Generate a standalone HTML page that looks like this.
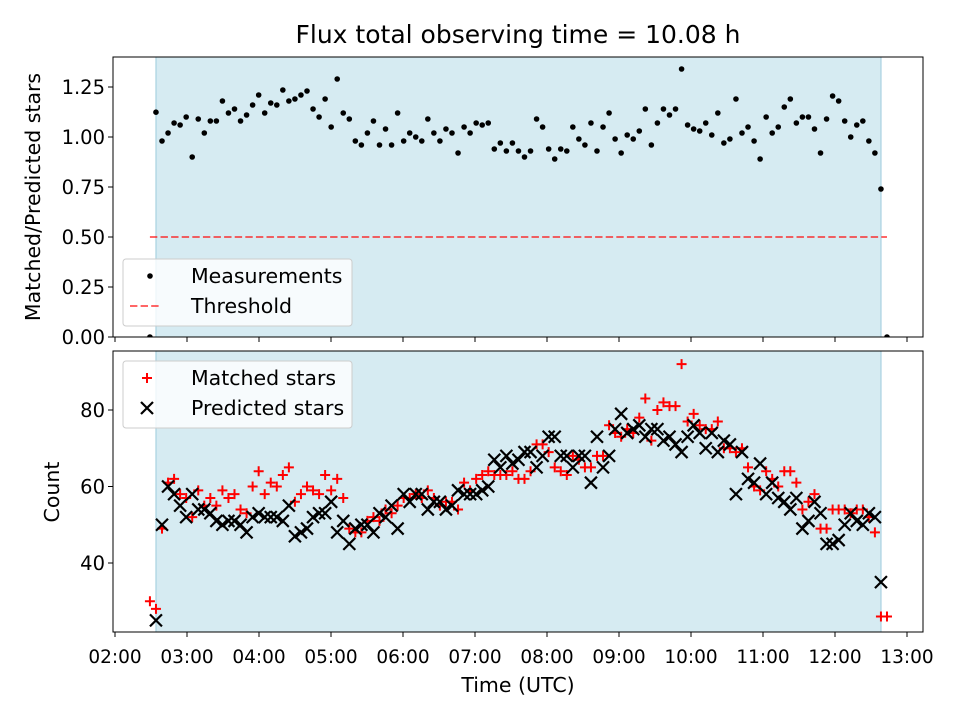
<!DOCTYPE html>
<html><head><meta charset="utf-8"><style>
body{margin:0;background:#fff}
svg{display:block;font-family:"DejaVu Sans","Liberation Sans",sans-serif}
</style></head><body>
<svg id="chart" width="960" height="720" viewBox="0 0 960 720" xmlns="http://www.w3.org/2000/svg"></svg>
<script>
// ratio of matched / predicted stars per sample
const ratio = [0,1.124,0.98,1.02,1.07,1.06,1.10,0.90,1.09,1.02,1.08,1.08,1.18,1.12,1.14,1.08,1.11,1.16,1.21,1.12,1.17,1.16,1.235,1.18,1.19,1.21,1.23,1.14,1.10,1.19,1.05,1.29,1.12,1.09,0.98,0.96,1.02,1.08,0.96,1.04,0.96,1.12,0.98,1.02,1.00,0.98,1.09,1.02,0.98,1.04,1.02,0.92,1.05,1.02,1.07,1.06,1.07,0.94,0.97,0.93,0.97,0.93,0.90,0.93,1.09,1.05,0.94,0.89,0.94,0.93,1.05,0.99,0.96,1.07,0.93,1.05,1.12,0.99,0.92,1.01,0.99,1.03,1.14,0.96,1.07,1.14,1.11,1.14,1.34,1.06,1.04,1.03,1.07,1.01,1.12,0.97,0.99,1.19,1.02,1.05,0.98,0.89,1.10,1.02,1.05,1.15,1.19,1.07,1.10,1.10,1.04,0.92,1.09,1.205,1.18,1.08,1.00,1.06,1.08,0.98,0.92,0.74,0];
const matched = [30,28,49,61,62,58,57,52,59,55,57,55,59,57,58,54,53,60,64,58,61,60,63,65,56,58,60,59,58,63,59,62,57,49,48,48,51,52,51,54,53,55,57,57,58,57,59,57,55,56,56,54,61,59,62,63,64,63,63,63,64,62,62,64,71,71,69,65,64,63,68,67,65,65,68,68,76,74,73,75,74,78,83,72,80,82,81,81,92,77,79,76,75,75,77,70,70,69,70,65,60,59,64,62,60,64,64,61,54,56,58,49,49,54,54,54,53,54,54,52,48,26,26];
const predicted = [0,25,50,60,58,55,52,58,54,54,53,51,50,51,51,50,48,52,53,52,52,52,51,55,47,48,49,52,53,53,56,48,51,45,49,50,50,48,53,52,55,49,58,56,58,58,54,56,56,54,55,59,58,58,58,59,60,67,65,68,66,67,69,69,65,68,73,73,68,68,65,68,68,61,73,65,68,75,79,74,75,76,73,75,75,72,73,71,69,73,76,74,70,74,69,72,71,58,69,62,61,66,58,61,57,56,54,57,49,51,56,53,45,45,46,50,53,51,50,53,52,35,0];
const sampleStartHour = 2.485, sampleStepHour = 0.08391; // regular sampling cadence
const xTickLabels = ["02:00","03:00","04:00","05:00","06:00","07:00","08:00","09:00","10:00","11:00","12:00","13:00"];
const topYTicks = [0,0.25,0.5,0.75,1.0,1.25];
const botYTicks = [40,60,80];
const thresholdValue = 0.5;
const obsWindow = [2.569, 12.639];

const svg = document.getElementById('chart');
const NS = 'http://www.w3.org/2000/svg';
function mk(tag, attrs, parent){const e=document.createElementNS(NS,tag);for(const k in attrs)e.setAttribute(k,attrs[k]);(parent||svg).appendChild(e);return e;}
const L=113,R=923,T1=57,B1=337,T2=351,B2=632;
const FS=19.5, LFS=20.5;
const xs = h => 115 + (h-2)*72;
const y1 = v => B1 - v*200;
const y2 = v => 410 + (80-v)*3.825;
const times = ratio.map((_,i)=>sampleStartHour + i*sampleStepHour);

const defs = mk('defs',{});
const c1 = mk('clipPath',{id:'c1'},defs); mk('rect',{x:L,y:T1,width:R-L,height:B1-T1},c1);
const c2 = mk('clipPath',{id:'c2'},defs); mk('rect',{x:L,y:T2,width:R-L,height:B2-T2},c2);

[[T1,B1,'top'],[T2,B2,'bottom']].forEach(([t,b,n])=>{
  const r=mk('rect',{x:xs(obsWindow[0]),y:t,width:xs(obsWindow[1])-xs(obsWindow[0]),height:b-t,fill:'#add8e6','fill-opacity':0.5,stroke:'#9ccbdc','stroke-width':1});
  
  
});

const gTop = mk('g',{'clip-path':'url(#c1)'});


ratio.forEach((v,i)=>{
  const c=mk('circle',{cx:xs(times[i]),cy:y1(v),r:2.8,fill:'#000'},gTop);
  
  
});
const th = mk('line',{x1:xs(times[0]),x2:xs(times[times.length-1]),y1:y1(thresholdValue),y2:y1(thresholdValue),stroke:'#ff0000','stroke-opacity':0.6,'stroke-width':2,'stroke-dasharray':'7.4,3.2'});



const gB = mk('g',{'clip-path':'url(#c2)'});


function plus(x,y,p,col){mk('path',{d:`M${x-5},${y}H${x+5}M${x},${y-5}V${y+5}`,stroke:col,'stroke-width':2,fill:'none'},p);}
function cross(x,y,p){mk('path',{d:`M${x-6},${y-6}L${x+6},${y+6}M${x-6},${y+6}L${x+6},${y-6}`,stroke:'#000','stroke-width':2.2,fill:'none'},p);}
const gM = mk('g',{},gB);


matched.forEach((v,i)=>plus(xs(times[i]),y2(v),gM,'#ff0000'));
const gP = mk('g',{},gB);


predicted.forEach((v,i)=>{ if(v>0) cross(xs(times[i]),y2(v),gP); });

[[T1,B1,'top-axes-frame'],[T2,B2,'bottom-axes-frame']].forEach(([t,b,n])=>{
  const r=mk('rect',{x:L,y:t,width:R-L,height:b-t,fill:'none',stroke:'#000','stroke-width':1});
  
  
});

xTickLabels.forEach((lab,i)=>{
  const x=xs(2+i);
  mk('line',{x1:x,x2:x,y1:B1,y2:B1+5,stroke:'#000'});
  mk('line',{x1:x,x2:x,y1:B2,y2:B2+5,stroke:'#000'});
  const t=mk('text',{x:x,y:B2+31,'font-size':18.5,'text-anchor':'middle',fill:'#000'});
  t.textContent=lab;
  
  
});
topYTicks.forEach(v=>{
  const y=y1(v);
  mk('line',{x1:L-5,x2:L,y1:y,y2:y,stroke:'#000'});
  const t=mk('text',{x:L-8,y:y+7,'font-size':FS,'text-anchor':'end',fill:'#000'});
  t.textContent=v.toFixed(2);
  
  
});
botYTicks.forEach(v=>{
  const y=y2(v);
  mk('line',{x1:L-5,x2:L,y1:y,y2:y,stroke:'#000'});
  const t=mk('text',{x:L-8,y:y+7,'font-size':FS,'text-anchor':'end',fill:'#000'});
  t.textContent=v;
  
  
});

function legend(y,items,name){
  const g=mk('g',{});
  
  
  mk('rect',{x:123,y:y,width:229,height:67,rx:3,fill:'#fff','fill-opacity':0.8,stroke:'#cccccc'},g);
  items.forEach((it,k)=>{
    const cy=y+17+k*30;
    it.draw(g,150,cy);
    const t=mk('text',{x:191,y:cy+7,'font-size':LFS,fill:'#000'},g);
    t.textContent=it.label;
    
    
  });
}
legend(259,[
  {label:'Measurements',draw:(g,x,y)=>mk('circle',{cx:x,cy:y,r:2.8,fill:'#000'},g)},
  {label:'Threshold',draw:(g,x,y)=>mk('line',{x1:x-20,x2:x+10,y1:y,y2:y,stroke:'#ff0000','stroke-opacity':0.6,'stroke-width':2,'stroke-dasharray':'7.4,3.2'},g)}
],'top-legend');
legend(361,[
  {label:'Matched stars',draw:(g,x,y)=>plus(x-3,y,g,'#ff0000')},
  {label:'Predicted stars',draw:(g,x,y)=>cross(x-3,y,g)}
],'bottom-legend');
</script>
<div style="position:absolute;left:0;top:0;width:960px;height:720px;pointer-events:none">
<svg width="960" height="720" style="position:absolute;left:0;top:0;font-family:'DejaVu Sans','Liberation Sans',sans-serif">
<text x="518" y="43" font-size="25" text-anchor="middle">Flux total observing time = 10.08 h</text>
<text x="40" y="197" font-size="20.5" text-anchor="middle" transform="rotate(-90 40 197)">Matched/Predicted stars</text>
<text x="59" y="492" font-size="20.5" text-anchor="middle" transform="rotate(-90 59 492)">Count</text>
<text x="518" y="692" font-size="20.5" text-anchor="middle">Time (UTC)</text>
</svg></div>
</body></html>
